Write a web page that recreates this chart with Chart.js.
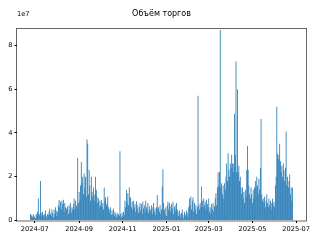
<!DOCTYPE html>
<html lang="ru">
<head>
    <meta charset="UTF-8">
    <title>Объём торгов</title>
    <script src="https://cdn.jsdelivr.net/npm/chart.js"></script>
    <style>
        body { margin: 0; background: #fff; }
    </style>
</head>
<body>
    <canvas id="volumeChart" width="320" height="240"></canvas>
    <script>
        // daily volume, in units of 1e7, one value per day starting at startDate
        const startDate = '2024-06-25';
        const volume = [
            0.3, 0.25, 0.2, 0.15, 0.3, 0.2, 0.15, 0.1, 0.25, 0.3,      // 0
            0.4, 1.0, 0.2, 0.3, 1.8, 0.35, 0.2, 0.4, 0.25, 0.15,       // 10
            0.3, 0.45, 0.2, 0.1, 0.3, 0.25, 0.4, 0.55, 0.3, 0.2,       // 20
            0.5, 0.35, 0.15, 0.5, 0.3, 0.6, 0.45, 0.2, 0.4, 0.7,       // 30
            0.93, 0.6, 0.85, 0.5, 0.9, 0.75, 0.95, 0.4, 0.8, 0.6,      // 40
            0.55, 0.5, 0.65, 0.3, 0.7, 0.45, 0.8, 0.35, 0.6, 0.5,      // 50
            0.75, 1.0, 0.5, 0.9, 0.7, 0.6, 2.85, 0.8, 1.3, 0.9,        // 60
            1.6, 2.67, 1.7, 2.0, 1.2, 2.15, 1.5, 2.0, 1.1, 3.7,        // 70
            3.5, 1.2, 2.3, 1.6, 0.9, 2.0, 1.3, 1.1, 1.5, 0.9,          // 80
            1.2, 2.0, 1.4, 1.1, 0.8, 1.0, 0.6, 0.9, 0.7, 0.93,         // 90
            0.6, 0.8, 0.5, 1.5, 0.9, 1.06, 0.7, 0.8, 1.1, 0.6,         // 100
            0.5, 0.35, 0.6, 0.25, 0.45, 0.3, 0.55, 0.2, 0.4, 0.3,      // 110
            0.15, 0.35, 0.25, 0.3, 0.2, 3.16, 0.3, 0.15, 0.35, 0.2,    // 120
            0.4, 0.25, 0.9, 0.6, 1.4, 0.8, 1.24, 0.7, 1.5, 1.0,        // 130
            1.06, 0.6, 0.85, 0.5, 0.9, 0.6, 0.75, 0.4, 0.88, 0.55,     // 140
            0.7, 0.35, 0.6, 0.8, 0.45, 0.75, 0.3, 0.85, 0.55, 0.7,     // 150
            0.4, 0.9, 0.6, 0.5, 0.8, 0.35, 0.65, 0.45, 0.5, 0.7,       // 160
            0.3, 0.6, 0.8, 0.4, 0.55, 0.25, 0.6, 1.16, 0.5, 0.6,       // 170
            0.4, 0.7, 0.3, 0.5, 1.55, 2.34, 0.8, 0.5, 0.3, 0.6,        // 180
            0.2, 0.7, 0.85, 0.5, 0.8, 0.65, 0.4, 0.75, 0.55, 0.85,     // 190
            0.3, 0.6, 0.7, 0.45, 0.8, 0.5, 0.4, 0.2, 0.45, 0.3,        // 200
            0.15, 0.35, 0.5, 0.25, 0.1, 0.4, 0.3, 0.2, 0.45, 0.35,     // 210
            0.15, 0.6, 1.0, 0.7, 1.1, 0.5, 0.9, 1.05, 0.4, 0.8,        // 220
            0.5, 0.7, 0.3, 0.6, 5.7, 0.7, 0.5, 0.8, 0.6, 1.55,         // 230
            0.9, 0.6, 1.0, 0.7, 0.85, 0.5, 0.95, 0.75, 0.6, 1.0,       // 240
            0.4, 0.6, 0.3, 0.75, 0.5, 0.8, 0.4, 0.65, 1.0, 1.24,       // 250
            0.7, 1.5, 2.2, 1.6, 2.2, 8.7, 1.5, 1.7, 1.2, 1.6,          // 260
            1.0, 1.7, 1.4, 2.0, 2.6, 1.8, 3.07, 2.3, 2.0, 2.6,         // 270
            2.4, 3.0, 2.6, 2.2, 2.6, 4.87, 3.0, 7.26, 2.2, 6.0,        // 280
            2.2, 2.5, 1.8, 2.0, 1.5, 1.2, 1.5, 1.0, 1.3, 0.8,          // 290
            1.4, 1.1, 2.3, 3.4, 2.3, 1.6, 1.2, 1.0, 1.5, 1.2,          // 300
            0.8, 1.4, 1.0, 1.5, 1.8, 1.5, 2.0, 1.6, 1.2, 1.9,          // 310
            1.4, 2.4, 4.64, 1.2, 0.9, 1.0, 0.8, 1.1, 0.6, 0.9,         // 320
            1.2, 0.8, 0.6, 1.0, 0.7, 0.9, 0.5, 0.8, 1.0, 0.7,          // 330
            0.85, 0.6, 1.6, 2.0, 5.2, 3.05, 2.8, 3.0, 3.5, 2.7,        // 340
            2.2, 2.5, 2.0, 2.6, 2.3, 1.8, 2.4, 4.07, 1.6, 2.0,         // 350
            1.5, 1.8, 2.1, 1.2, 1.5, 0.9, 1.5                          // 360
        ];
        const monthTicks = ['2024-07', '2024-09', '2024-11', '2025-01', '2025-03', '2025-05', '2025-07'];
        const yTicks = [0, 2, 4, 6, 8];
        const yMax = 8.75;
        const titleText = 'Объём торгов';
        const offsetText = '1e7';

        const DAY = 86400000;
        const t0 = new Date(startDate).getTime();
        const monthPos = monthTicks.map(m => (new Date(m + '-01').getTime() - t0) / DAY);

        // matplotlib-like 5% margin around the bars
        const lo = -0.4, hi = volume.length - 1 + 0.4;
        const pad = (hi - lo) * 0.05;

        const font = "'DejaVu Sans', sans-serif";

        const framePlugin = {
            id: 'frame',
            afterDraw(chart) {
                const { ctx, chartArea: a } = chart;
                ctx.save();
                ctx.strokeStyle = 'rgba(0,0,0,0.6)';
                ctx.lineWidth = 1;
                ctx.strokeRect(a.left - 0.5, a.top - 0.5, a.right - a.left + 1, a.bottom - a.top + 1);
                ctx.fillStyle = '#000';
                ctx.font = '8px ' + font;
                ctx.textAlign = 'center';
                ctx.textBaseline = 'alphabetic';
                ctx.fillText(titleText, (a.left + a.right) / 2, 15.5);
                ctx.font = '6.7px ' + font;
                ctx.textAlign = 'left';
                ctx.fillText(offsetText, a.left, 16);
                ctx.restore();
            }
        };

        new Chart(document.getElementById('volumeChart'), {
            type: 'bar',
            data: {
                datasets: [{
                    data: volume.map((v, i) => ({ x: i, y: v })),
                    backgroundColor: '#1f77b4',
                    borderWidth: 0,
                    inflateAmount: 0.05,
                    categoryPercentage: 1,
                    barPercentage: 1
                }]
            },
            options: {
                responsive: false,
                animation: false,
                layout: { padding: { top: 29, right: 14, left: 0, bottom: 0 } },
                plugins: { legend: { display: false }, tooltip: { enabled: false } },
                scales: {
                    x: {
                        type: 'linear',
                        offset: false,
                        min: lo - pad,
                        max: hi + pad,
                        afterBuildTicks: s => { s.ticks = monthPos.map(v => ({ value: v })); },
                        afterFit: s => { s.height = 19.5; },
                        grid: { offset: false, drawOnChartArea: false, drawTicks: true, tickLength: 2.5, tickColor: '#000' },
                        border: { display: false },
                        ticks: {
                            autoSkip: false,
                            maxRotation: 0,
                            padding: 2,
                            color: '#000',
                            font: { family: font, size: 6.7 },
                            callback: (v, i) => monthTicks[i]
                        }
                    },
                    y: {
                        min: 0,
                        max: yMax,
                        afterBuildTicks: s => { s.ticks = yTicks.map(v => ({ value: v })); },
                        afterFit: s => { s.width = 17; },
                        grid: { drawOnChartArea: false, drawTicks: true, tickLength: 2.5, tickColor: '#000' },
                        border: { display: false },
                        ticks: {
                            padding: 2,
                            color: '#000',
                            font: { family: font, size: 6.7 },
                            callback: v => String(v)
                        }
                    }
                }
            },
            plugins: [framePlugin]
        });
    </script>
</body>
</html>
